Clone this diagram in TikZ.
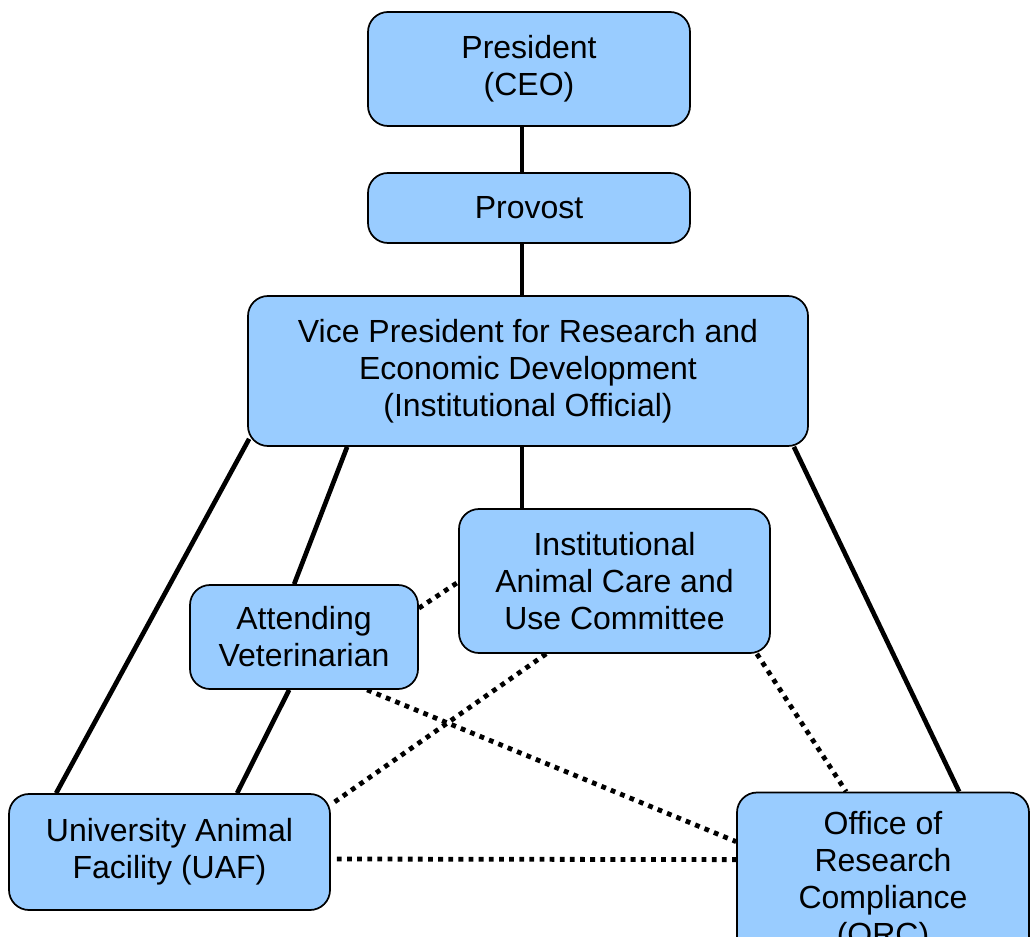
\documentclass[tikz,border=0pt]{standalone}
\usepackage{fontspec}
\setmainfont{Liberation Sans}
\usetikzlibrary{calc,backgrounds}
\definecolor{boxblue}{HTML}{99CCFF}

\begin{document}
\begin{tikzpicture}[x=0.75pt, y=-0.75pt,
    org/.style={rectangle, rounded corners=15pt, draw, line width=1.3pt,
                fill=boxblue, align=center, inner sep=0pt,
                font=\fontsize{24}{27.75}\selectfont},
    link/.style={line width=3.5pt},
    dots/.style={line width=3.6pt, dash pattern=on 3.6pt off 4pt}]
  \useasboundingbox (0,0) rectangle (1030,937);
  % top chain
  \node[org, minimum width=241.5pt, minimum height=85.5pt]  (pres) at (529,69)  {President\\(CEO)};
  \node[org, minimum width=241.5pt, minimum height=52.5pt]  (prov) at (529,208) {Provost};
  \node[org, minimum width=420pt,   minimum height=112.5pt] (vp)   at (528,371)
       {Vice President for Research and\\Economic Development\\(Institutional Official)};
  % middle row
  \node[org, minimum width=233.25pt, minimum height=108pt] (iacuc) at (614.5,581)
       {Institutional\\Animal Care and\\Use Committee};
  \node[org, minimum width=171pt, minimum height=78pt] (av) at (304,637) {Attending\\Veterinarian};
  % bottom row
  \node[org, minimum width=240.75pt, minimum height=87pt] (uaf) at (169.5,852)
       {University Animal\\Facility (UAF)};
  \node[org, minimum width=219pt, minimum height=134.25pt] (orc) at (883,882)
       {Office of\\Research\\Compliance\\(ORC)};
  \coordinate (spine) at (522,0);

  \begin{scope}[on background layer]
    % reporting lines
    \draw[link] (pres.south -| spine) -- (prov.north -| spine);
    \draw[link] (prov.south -| spine) -- (vp.north -| spine);
    \draw[link] (vp.south -| spine) -- (iacuc.north -| spine);
    \draw[link] ($(vp.south west)+(2,-8)$) -- ($(uaf.north west)+(48,0)$);
    \draw[link] ($(vp.south west)+(100,0)$) -- ($(av.north west)+(105,0)$);
    \draw[link] ($(av.south west)+(100,0)$) -- ($(uaf.north west)+(229,0)$);
    \draw[link] ($(vp.south east)+(-15,0)$) -- ($(orc.north west)+(223,0)$);
    % dotted links
    \draw[dots] ($(av.north east)+(0,24)$) -- ($(iacuc.north west)+(0,74)$);
    \draw[dots] ($(av.south west)+(178,0)$) -- ($(orc.north west)+(0,50)$);
    \draw[dots] ($(iacuc.south west)+(88,0)$) -- ($(uaf.north east)+(2,10)$);
    \draw[dots] ($(iacuc.south east)+(-14,0)$) -- ($(orc.north west)+(110,0)$);
    \draw[dots] ($(uaf.east)+(6,7)$) -- ($(orc.north west)+(0,68)$);
  \end{scope}
\end{tikzpicture}
\end{document}
